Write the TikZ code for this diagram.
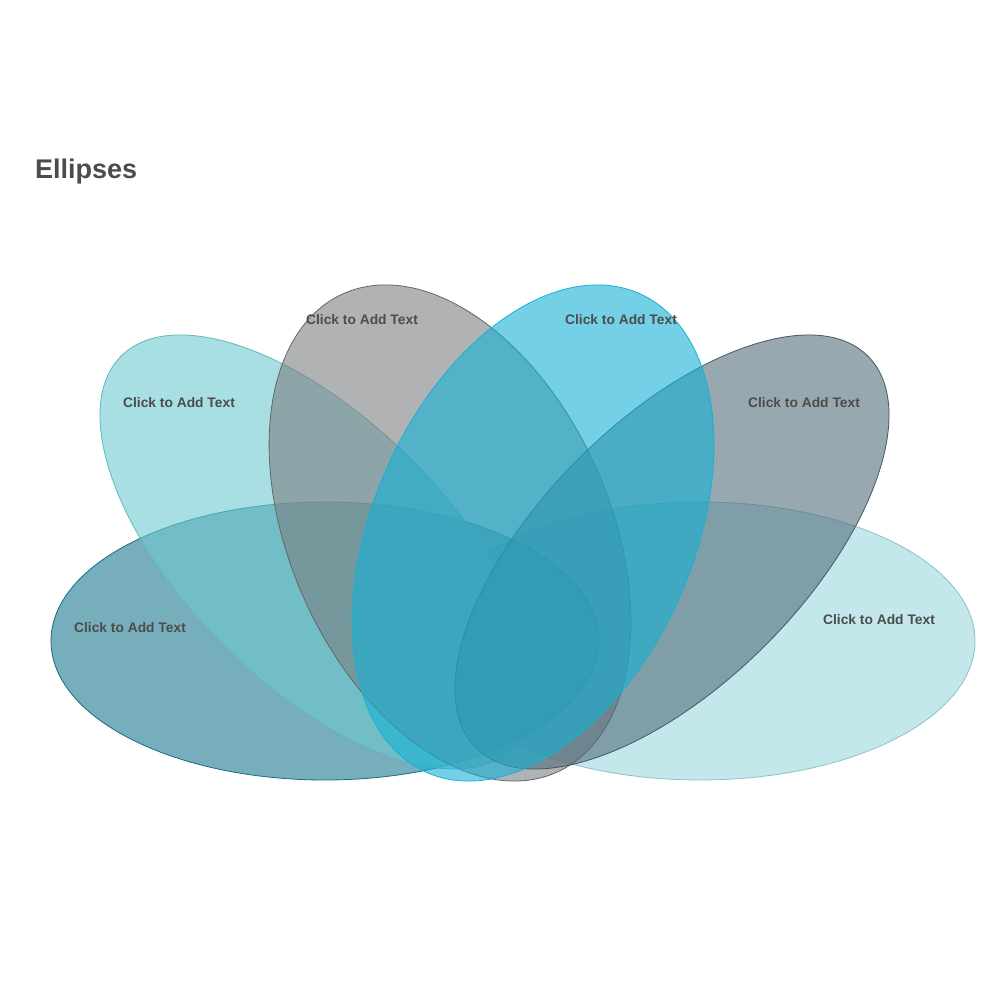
\documentclass[tikz,border=0pt]{standalone}
\usepackage{fontspec}
\setmainfont{Liberation Sans}
\begin{document}
\begin{tikzpicture}[x=1pt,y=1pt,
  petal/.style={fill opacity=0.6, draw opacity=1, line width=0.8pt},
  lbl/.style={font=\fontsize{13.8}{16}\selectfont\bfseries, text=black!70}]
\useasboundingbox (0,0) rectangle (1000,1000);
\definecolor{cTeal}{HTML}{6ECACF}
\definecolor{cGray}{HTML}{7B7F82}
\definecolor{cBlue}{HTML}{16B1D5}
\definecolor{cSlate}{HTML}{536E7B}
\definecolor{cDark}{HTML}{1B788E}
\definecolor{cLight}{HTML}{9BD7DE}
\coordinate (e1) at (317,448);
\coordinate (e2) at (450,467);
\coordinate (e3) at (533,467);
\coordinate (e4) at (672,448);
\coordinate (e5) at (700,359);
\coordinate (e6) at (325,359);
\draw[petal, fill=cLight, draw=cLight!90!black] (e5) ellipse [x radius=275, y radius=139];
\draw[petal, fill=cDark, draw=cDark!90!black] (e6) ellipse [x radius=274, y radius=139];
\draw[petal, fill=cTeal, draw=cTeal!90!black, rotate around={-45:(e1)}] (e1) ellipse [x radius=277, y radius=132];
\draw[petal, fill=cGray, draw=cGray!80!black, rotate around={-66:(e2)}] (e2) ellipse [x radius=262, y radius=160];
\draw[petal, fill=cSlate, draw=cSlate!80!black, rotate around={45:(e4)}] (e4) ellipse [x radius=277, y radius=132];
\draw[petal, fill=cBlue, draw=cBlue, rotate around={66:(e3)}] (e3) ellipse [x radius=262, y radius=160];
\node[lbl] (t1) at (179,597) {Click to Add Text};
\node[lbl] (t2) at (362,680) {Click to Add Text};
\node[lbl] (t3) at (621,680) {Click to Add Text};
\node[lbl] (t4) at (804,597) {Click to Add Text};
\node[lbl] (t5) at (130,372) {Click to Add Text};
\node[lbl] (t6) at (879,380) {Click to Add Text};
\node[anchor=west, inner sep=0, font=\fontsize{27}{32}\selectfont\bfseries, text=black!70] (title) at (35,828) {Ellipses};
\end{tikzpicture}
\end{document}
